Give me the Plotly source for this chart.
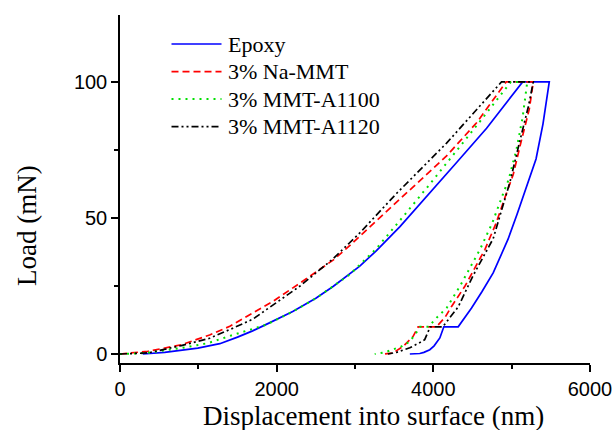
import plotly.graph_objects as go

# ---------------- data (displacement nm, load mN) ----------------
series_names = ["Epoxy", "3% Na-MMT", "3% MMT-A1100", "3% MMT-A1120"]

epoxy_x = [290, 570, 994, 1274, 1500, 1693, 1868, 2205, 2500, 2720, 3061, 3274, 3574, 3957, 4300, 4680, 5140,
           5480, 5400, 5311, 5184, 5069, 4954, 4764, 4620, 4488, 4317,
           4134, 4083, 4010, 3955, 3880, 3827, 3700]
epoxy_y = [0, 0.6, 2.2, 3.8, 6.2, 8.5, 10.9, 15.6, 20.5, 24.8, 32.3, 38.0, 46.8, 59.5, 70.5, 83, 100,
           100, 84.6, 71.7, 60.6, 51.4, 42.2, 29.8, 22.9, 16.9, 10,
           10, 5.9, 3.0, 1.6, 0.6, 0.2, 0]

namm_x = [0, 355, 782, 1144, 1402, 1695, 1950, 2294, 2720, 2892, 3067, 3530, 4169, 4552, 4930,
          5276, 5225, 5120, 5020, 4936, 4800, 4658, 4403, 4233, 4150, 4040,
          3806, 3742, 3614, 3486, 3359]
namm_y = [0, 1.0, 3.4, 7.0, 10.2, 15.1, 19.3, 26.0, 34.5, 38.8, 43.5, 55.6, 72.8, 85, 100,
          100, 90, 78, 66, 59.3, 48, 38.4, 24.9, 17.5, 13.5, 10,
          10, 6.5, 2.8, 0.4, 0]

a1100_x = [0, 351, 782, 1122, 1420, 1868, 2200, 2507, 2933, 3274, 3600, 3957, 4596, 4990,
           5199, 5140, 5060, 4960, 4892, 4750, 4595, 4339, 4169, 4041, 3940,
           3830, 3806, 3700, 3594, 3486, 3380, 3252]
a1100_y = [0, 0.4, 2.2, 4.0, 6.8, 10.8, 15.5, 20.6, 29.2, 38.8, 50, 62.5, 85.5, 100,
           100, 87, 75, 64, 59, 48, 38.4, 24.9, 16.9, 13.3, 10,
           10, 8.8, 4.6, 2.8, 1.6, 0.6, 0]

a1120_x = [0, 355, 782, 1144, 1442, 1695, 1868, 2294, 2720, 2891, 3061, 3530, 4169, 4424, 4870,
           5276, 5212, 5106, 4978, 4764, 4509, 4317, 4169, 4120,
           3960, 3890, 3828, 3700, 3530, 3420]
a1120_y = [0, 0.4, 3.1, 5.8, 9.5, 12.8, 16.3, 24.9, 35.0, 39.6, 44.5, 59, 77.5, 85.7, 100,
           100, 90.8, 78.5, 63.2, 42.4, 28.9, 17.3, 11.7, 10,
           10, 5.3, 4.2, 2.3, 0.6, 0]

x_ticks = [0, 2000, 4000, 6000]
y_ticks = [0, 50, 100]

# ---------------- styles ----------------
colors = ["#0000ff", "#ff0000", "#00e000", "#000000"]
dashes = ["solid", "7px,4px", "2px,5px", "7px,3px,2px,3px,2px,3px"]
widths = [1.7, 1.7, 2.0, 1.7]

xs = [epoxy_x, namm_x, a1100_x, a1120_x]
ys = [epoxy_y, namm_y, a1100_y, a1120_y]

W, H = 614, 430
ML, MR, MT, MB = 120, 24, 15, 67
PW, PH = W - ML - MR, H - MT - MB


def px2paper_x(px):
    return (px - ML) / PW


def px2paper_y(py):
    return (H - MB - py) / PH


fig = go.Figure()
for name, x, y, c, d, w in zip(series_names, xs, ys, colors, dashes, widths):
    fig.add_trace(go.Scatter(x=x, y=y, mode="lines", name=name,
                             line=dict(color=c, dash=d, width=w), showlegend=False))

# manual legend (long line samples like the original)
shapes = []
annotations = []
leg_rows = [44, 71.7, 99, 126.7]
for i, name in enumerate(series_names):
    yp = px2paper_y(leg_rows[i])
    shapes.append(dict(type="line", xref="paper", yref="paper",
                       x0=px2paper_x(171.5), x1=px2paper_x(221.5), y0=yp, y1=yp,
                       line=dict(color=colors[i], dash=dashes[i], width=widths[i])))
    annotations.append(dict(xref="paper", yref="paper", x=px2paper_x(226), y=yp,
                            xanchor="left", yanchor="middle", text=name, showarrow=False,
                            font=dict(family="Liberation Serif", size=22, color="black")))

# axis titles
annotations.append(dict(xref="paper", yref="paper", x=px2paper_x(373.5), y=px2paper_y(416),
                        xanchor="center", yanchor="middle", showarrow=False,
                        text="Displacement into surface (nm)",
                        font=dict(family="Liberation Serif", size=27, color="black")))
annotations.append(dict(xref="paper", yref="paper", x=px2paper_x(27), y=px2paper_y(226),
                        xanchor="center", yanchor="middle", showarrow=False, textangle=-90,
                        text="Load (mN)",
                        font=dict(family="Liberation Serif", size=27, color="black")))

axis_common = dict(showline=True, linecolor="black", linewidth=1.5, showgrid=False,
                   zeroline=False, ticks="outside", ticklen=7, tickwidth=1.5,
                   tickcolor="black", mirror=False, automargin=False,
                   tickfont=dict(family="Liberation Sans", size=20, color="black"))

fig.update_layout(
    width=W, height=H, autosize=False,
    margin=dict(l=ML, r=MR, t=MT, b=MB, pad=0, autoexpand=False),
    paper_bgcolor="white", plot_bgcolor="white",
    shapes=shapes, annotations=annotations,
    xaxis=dict(range=[0, 6000], tickvals=x_ticks,
               minor=dict(tickvals=[1000, 3000, 5000], ticklen=4, ticks="outside",
                          tickcolor="black", tickwidth=1.5),
               **axis_common),
    yaxis=dict(range=[-3.3, 124.6], tickvals=y_ticks,
               minor=dict(tickvals=[25, 75], ticklen=4, ticks="outside",
                          tickcolor="black", tickwidth=1.5),
               **axis_common),
)

fig.write_html("out.html", config={"displayModeBar": False},
               post_script="document.body.style.margin='0px';document.body.style.overflow='hidden';")
